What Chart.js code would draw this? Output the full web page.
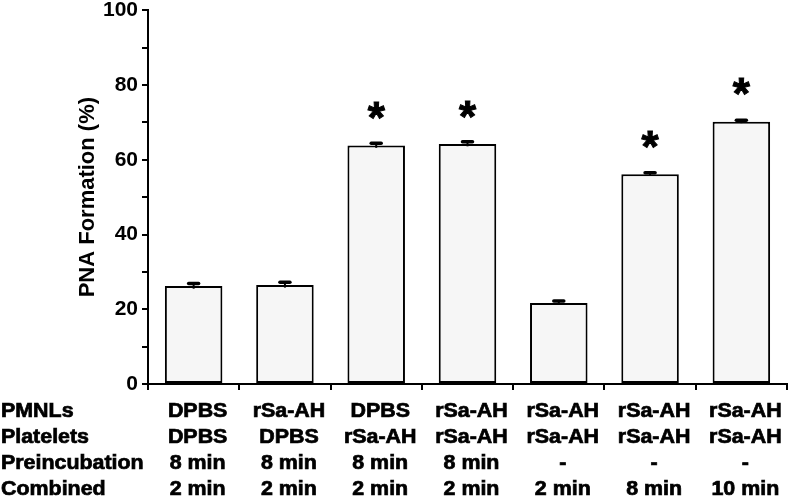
<!DOCTYPE html>
<html lang="en">
<head>
    <meta charset="UTF-8">
    <title>PNA Formation</title>
    <script src="https://cdn.jsdelivr.net/npm/chart.js"></script>
    <style>
      body { margin: 0; background: #fff; }
      #wrap { width: 792px; height: 501px; }
    </style>
</head>
<body>
    <div id="wrap"><canvas id="pnaChart" width="792" height="501"></canvas></div>
    <script>
      // values
      const groups = ['1', '2', '3', '4', '5', '6', '7'];
      const pnaValues = [26.2, 26.5, 63.8, 64.2, 21.7, 56.1, 70.2];
      const pnaErrors = [0.7, 0.7, 0.6, 0.6, 0.5, 0.4, 0.4];
      const significant = [false, false, true, true, false, true, true];

      const rowNames = ['PMNLs', 'Platelets', 'Preincubation', 'Combined'];
      const pmnls = ['DPBS', 'rSa-AH', 'DPBS', 'rSa-AH', 'rSa-AH', 'rSa-AH', 'rSa-AH'];
      const platelets = ['DPBS', 'DPBS', 'rSa-AH', 'rSa-AH', 'rSa-AH', 'rSa-AH', 'rSa-AH'];
      const preincubation = ['8 min', '8 min', '8 min', '8 min', '-', '-', '-'];
      const combined = ['2 min', '2 min', '2 min', '2 min', '2 min', '8 min', '10 min'];
      const tableRows = [pmnls, platelets, preincubation, combined];

      const yTicks = [0, 20, 40, 60, 80, 100];

      const boldFont = 'bold 20px "Liberation Sans", Arial, sans-serif';

      function drawStretched(ctx, text, x, y, align) {
        ctx.save();
        ctx.translate(x, y);
        ctx.scale(1.07, 1);
        ctx.textAlign = align;
        ctx.lineWidth = 0.7;
        ctx.strokeText(text, 0, 0);
        ctx.fillText(text, 0, 0);
        ctx.restore();
      }

      const extras = {
        id: 'extras',
        afterDatasetsDraw(chart) {
          const ctx = chart.ctx;
          const xs = chart.scales.x, ys = chart.scales.y;
          const meta = chart.getDatasetMeta(0);
          ctx.save();
          ctx.fillStyle = '#000';
          ctx.strokeStyle = '#000';
          meta.data.forEach((bar, i) => {
            // error bar
            const yTop = ys.getPixelForValue(pnaValues[i] + pnaErrors[i]);
            const yBot = ys.getPixelForValue(pnaValues[i] - pnaErrors[i]);
            ctx.lineWidth = 2;
            ctx.beginPath();
            ctx.moveTo(bar.x, yTop); ctx.lineTo(bar.x, yBot);
            ctx.stroke();
            ctx.lineWidth = 3.5;
            ctx.lineCap = 'round';
            ctx.beginPath();
            ctx.moveTo(bar.x - 5, yTop); ctx.lineTo(bar.x + 5, yTop);
            ctx.stroke();
            ctx.lineCap = 'butt';
            // significance star
            if (significant[i]) {
              ctx.font = 'bold 44px "Liberation Sans", Arial, sans-serif';
              ctx.textAlign = 'center';
              ctx.textBaseline = 'alphabetic';
              const m = ctx.measureText('*');
              const mid = (m.actualBoundingBoxAscent - m.actualBoundingBoxDescent) / 2;
              ctx.lineWidth = 1;
              ctx.strokeText('*', bar.x, bar.y - 35 + mid);
              ctx.fillText('*', bar.x, bar.y - 35 + mid);
            }
          });
          // condition table under the axis
          ctx.font = boldFont;
          ctx.textBaseline = 'middle';
          const rowY = [411.5, 437.5, 463.5, 489];
          rowNames.forEach((name, r) => {
            drawStretched(ctx, name, 1, rowY[r], 'left');
            tableRows[r].forEach((txt, i) => {
              drawStretched(ctx, txt, xs.getPixelForValue(i) + 4, rowY[r], 'center');
            });
          });
          ctx.restore();
        }
      };

      const ctx = document.getElementById('pnaChart').getContext('2d');
      new Chart(ctx, {
        type: 'bar',
        data: {
          labels: groups,
          datasets: [{
            data: pnaValues,
            backgroundColor: '#f6f6f6',
            borderColor: '#000',
            borderWidth: 2,
            borderSkipped: false,
            barPercentage: 0.63,
            categoryPercentage: 1
          }]
        },
        options: {
          responsive: false,
          animation: false,
          layout: { padding: { top: 0, right: 5, left: 0, bottom: 0 } },
          plugins: {
            legend: { display: false },
            tooltip: { enabled: false }
          },
          scales: {
            x: {
              grid: { offset: true, drawOnChartArea: false, drawTicks: true, tickLength: 6, color: '#000', lineWidth: 2 },
              border: { display: true, color: '#000', width: 2 },
              ticks: { display: false },
              afterFit(scale) { scale.height = 117; }
            },
            y: {
              min: 0,
              max: 100,
              ticks: {
                stepSize: 10,
                color: '#000',
                padding: 4,
                font: { family: '"Liberation Sans", Arial, sans-serif', size: 21, weight: 'bold', lineHeight: 0.6 },
                callback: v => yTicks.includes(v) ? v : ''
              },
              grid: { drawOnChartArea: false, drawTicks: true, tickLength: 6, color: '#000', lineWidth: 2 },
              border: { display: true, color: '#000', width: 2 },
              title: {
                display: true,
                text: 'PNA Formation (%)',
                color: '#000',
                font: { family: '"Liberation Sans", Arial, sans-serif', size: 22, weight: 'bold' },
                padding: { top: 75, bottom: 0 }
              },
              afterFit(scale) { scale.width = 148; }
            }
          }
        },
        plugins: [extras]
      });
    </script>
</body>
</html>
